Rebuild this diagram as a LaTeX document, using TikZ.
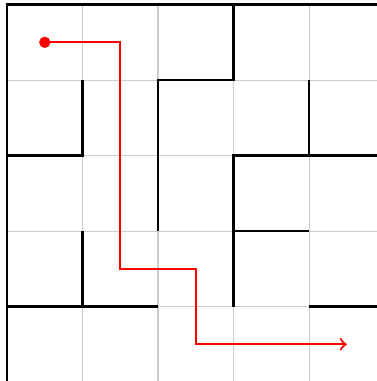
\documentclass[tikz,border=0pt]{standalone}
\usetikzlibrary{positioning}

\begin{document}
\begin{tikzpicture}[
  x=1cm, y=-1cm,
  grid/.style = { draw=gray!40, line width=0.4pt },
  wall/.style = { draw=black, thick },
  route/.style = { draw=red, thick, -> },
  dot/.style = { circle, fill=red, inner sep=0pt, minimum size=0.15cm }
]
\useasboundingbox (-0.093,-0.06) rectangle (4.9,4.986);
\clip (-0.093,-0.06) rectangle (4.9,4.986);

% grid
\foreach \i in {0,...,5} {
  \draw[grid] (\i,0) -- (\i,5);
  \draw[grid] (0,\i) -- (5,\i);
}

% walls
\draw[wall] (0,0) rectangle (5,5);
\draw[wall] (3,0) -- (3,1) -- (2,1) -- (2,3);
\draw[wall] (1,1) -- (1,2) -- (0,2);
\draw[wall] (4,1) -- (4,2);
\draw[wall] (5,2) -- (3,2) -- (3,4);
\draw[wall] (3,3) -- (4,3);
\draw[wall] (1,3) -- (1,4);
\draw[wall] (0,4) -- (2,4);
\draw[wall] (4,4) -- (5,4);

% solution path
\node[dot] (start) at (0.5,0.5) {};
\coordinate (goal) at (4.5,4.5);
\draw[route] (start.center) -- (1.5,0.5) -- (1.5,3.5) -- (2.5,3.5) -- (2.5,4.5) -- (goal);

\end{tikzpicture}
\end{document}
